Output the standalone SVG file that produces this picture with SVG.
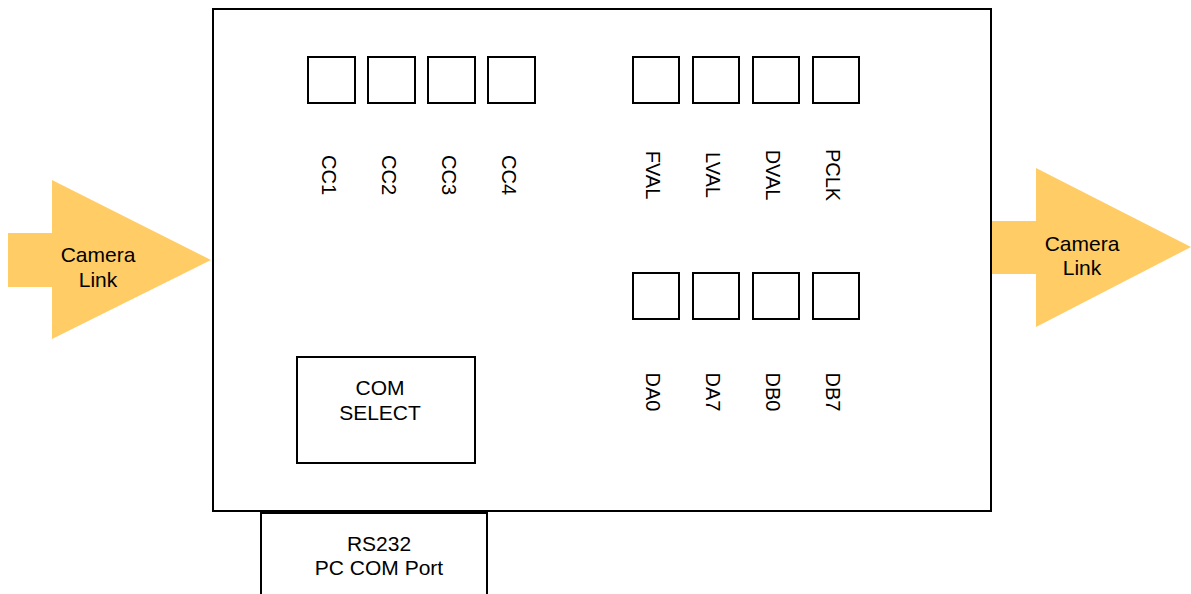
<svg xmlns="http://www.w3.org/2000/svg" width="1191" height="594" viewBox="0 0 1191 594">
<style>
.box{fill:#ffffff;stroke:#000000;stroke-width:2}
.pin{fill:#ffffff;stroke:#000000;stroke-width:2}
.arrow{fill:#ffcc66;stroke:none}
.t{font-family:"Liberation Sans",Arial,sans-serif;font-size:21px;fill:#000000;text-anchor:middle}
.v{font-family:"Liberation Sans",Arial,sans-serif;font-size:20px;fill:#000000;text-anchor:middle}
</style>
<rect width="1191" height="594" fill="#ffffff"/>
<g id="main"><rect class="box" x="213" y="9" width="778" height="502"/></g>
<g id="arrow-in">
<polygon class="arrow" points="8,233 52,233 52,180 211,260 52,339 52,287 8,287"/>
<text class="t" x="98" y="262">Camera</text>
<text class="t" x="98" y="287">Link</text>
</g>
<g id="arrow-out">
<polygon class="arrow" points="992,221 1036,221 1036,168 1191,247 1036,327 1036,274 992,274"/>
<text class="t" x="1082" y="251">Camera</text>
<text class="t" x="1082" y="275">Link</text>
</g>
<g id="cc1"><rect class="pin" x="308" y="57" width="47" height="46"/><text class="v" transform="translate(322,175) rotate(90)">CC1</text></g>
<g id="cc2"><rect class="pin" x="368" y="57" width="47" height="46"/><text class="v" transform="translate(382,175) rotate(90)">CC2</text></g>
<g id="cc3"><rect class="pin" x="428" y="57" width="47" height="46"/><text class="v" transform="translate(442,175) rotate(90)">CC3</text></g>
<g id="cc4"><rect class="pin" x="488" y="57" width="47" height="46"/><text class="v" transform="translate(502,175) rotate(90)">CC4</text></g>
<g id="fval"><rect class="pin" x="633" y="57" width="46" height="46"/><text class="v" transform="translate(646,175) rotate(90)">FVAL</text></g>
<g id="lval"><rect class="pin" x="693" y="57" width="46" height="46"/><text class="v" transform="translate(706,175) rotate(90)">LVAL</text></g>
<g id="dval"><rect class="pin" x="753" y="57" width="46" height="46"/><text class="v" transform="translate(766,175) rotate(90)">DVAL</text></g>
<g id="pclk"><rect class="pin" x="813" y="57" width="46" height="46"/><text class="v" transform="translate(826,175) rotate(90)">PCLK</text></g>
<g id="da0"><rect class="pin" x="633" y="273" width="46" height="46"/><text class="v" transform="translate(646,392) rotate(90)">DA0</text></g>
<g id="da7"><rect class="pin" x="693" y="273" width="46" height="46"/><text class="v" transform="translate(706,392) rotate(90)">DA7</text></g>
<g id="db0"><rect class="pin" x="753" y="273" width="46" height="46"/><text class="v" transform="translate(766,392) rotate(90)">DB0</text></g>
<g id="db7"><rect class="pin" x="813" y="273" width="46" height="46"/><text class="v" transform="translate(826,392) rotate(90)">DB7</text></g>
<g id="com-select"><rect class="box" x="297" y="357" width="178" height="106"/>
<text class="t" x="380" y="395">COM</text>
<text class="t" x="380" y="420">SELECT</text></g>
<g id="rs232"><rect class="box" x="261" y="513" width="226" height="90"/>
<text class="t" x="379" y="551">RS232</text>
<text class="t" x="379" y="575">PC COM Port</text></g>
<g id="connectors"></g>
</svg>
